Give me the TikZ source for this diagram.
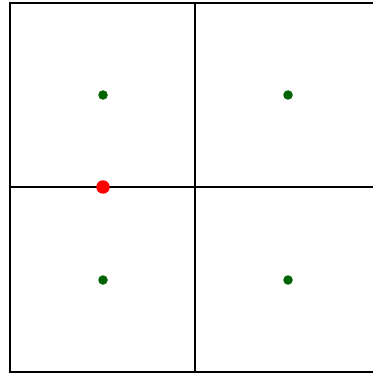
\documentclass[tikz,border=0pt]{standalone}
\usepackage{xcolor}
\usepackage{tikz}
\usetikzlibrary{positioning}

\definecolor{dotgreen}{RGB}{0,100,0}

\begin{document}
\begin{tikzpicture}[
  x=0.02cm, y=-0.02cm,
  gridline/.style={draw=black, line width=0.7pt},
  centre/.style={circle, fill=dotgreen, inner sep=0pt, minimum size=0.19cm},
  probe/.style={circle, fill=red, inner sep=0pt, minimum size=0.27cm}
]
  \useasboundingbox (0,0) rectangle (372,378);
  % grid
  \draw[gridline] (10,3) rectangle (380,372);
  \draw[gridline] (195,3) -- (195,372);
  \draw[gridline] (10,187) -- (380,187);
  % cell centres
  \node[centre] (c11) at (103,95) {};
  \node[centre] (c12) at (288,95) {};
  \node[centre] (c21) at (103,280) {};
  \node[centre] (c22) at (288,280) {};
  % point on the edge
  \node[probe] (p) at (103,187) {};
\end{tikzpicture}
\end{document}
